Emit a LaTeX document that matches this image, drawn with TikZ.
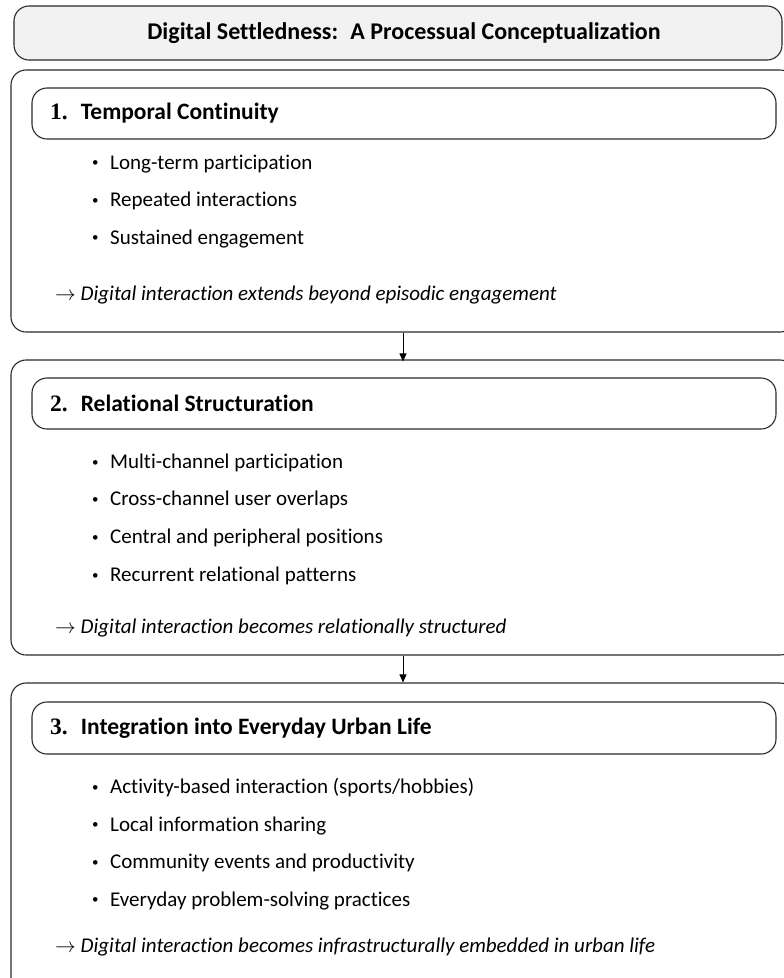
\documentclass[tikz,border=0pt]{standalone}
\usepackage{fontspec}
\setmainfont{Carlito}[Ligatures=NoCommon]
\newfontfamily\numfont{Liberation Serif}
\usetikzlibrary{arrows.meta}
\definecolor{titlefill}{HTML}{F2F2F2}
\definecolor{edge}{HTML}{2A2A2A}
\tikzset{
  panel/.style={draw=edge, line width=1.1pt, rounded corners=15pt, inner sep=0pt},
  titlebox/.style={panel, fill=titlefill},
  headbox/.style={panel, minimum width=744pt, minimum height=51pt},
  stagebox/.style={panel, minimum width=784pt},
  titletext/.style={font=\fontsize{24}{28}\selectfont\bfseries, inner sep=0pt},
  headtext/.style={font=\fontsize{23.5}{28}\selectfont\bfseries, anchor=west, inner sep=0pt},
  itemtext/.style={font=\fontsize{21}{25}\selectfont, anchor=west, inner sep=0pt},
  resulttext/.style={font=\fontsize{21}{25}\selectfont\itshape, anchor=west, inner sep=0pt},
  flow/.style={draw=black, line width=0.9pt, -{Triangle[length=8pt,width=7pt]}}
}
\newcommand{\itm}[1]{\makebox[18pt][l]{\raisebox{2.5pt}{\fontsize{13}{13}\selectfont\textbullet}}#1}
\newcommand{\hdr}[2]{{\numfont #1.}\hspace{13pt}#2}
\begin{document}
\begin{tikzpicture}[x=1pt,y=-1pt]
\useasboundingbox (0,0) rectangle (784,978);
\begin{scope}
\clip (0,0) rectangle (784,978);

% title banner
\node[titlebox, minimum width=768pt, minimum height=54pt] (title) at (398,33) {};
\node[titletext] (titlelbl) at (404,33) {Digital Settledness:\hspace{5pt} A Processual Conceptualization};

% stage panels
\node[stagebox, minimum height=262pt] (s1) at (403,201) {};
\node[stagebox, minimum height=295pt] (s2) at (403,507.5) {};
\node[stagebox, minimum height=317pt] (s3) at (403,841.5) {};

% stage headers
\node[headbox] (h1) at (404,113.5) {};
\node[headbox] (h2) at (404,403.5) {};
\node[headbox, minimum height=52pt] (h3) at (404,728) {};
\node[headtext] (h1lbl) at (50,113.5) {\hdr{1}{Temporal Continuity}};
\node[headtext] (h2lbl) at (50,403.5) {\hdr{2}{Relational Structuration}};
\node[headtext] (h3lbl) at (50,728) {\hdr{3}{Integration into Everyday Urban Life}};

% stage 1 contents
\node[itemtext] (a1) at (92,164) {\itm{Long-term participation}};
\node[itemtext] (a2) at (92,201) {\itm{Repeated interactions}};
\node[itemtext] (a3) at (92,239) {\itm{Sustained engagement}};
\node[resulttext] (r1) at (55,295) {$\rightarrow$ Digital interaction extends beyond episodic engagement};

% stage 2 contents
\node[itemtext] (b1) at (92,463) {\itm{Multi-channel participation}};
\node[itemtext] (b2) at (92,500) {\itm{Cross-channel user overlaps}};
\node[itemtext] (b3) at (92,538) {\itm{Central and peripheral positions}};
\node[itemtext] (b4) at (92,576) {\itm{Recurrent relational patterns}};
\node[resulttext] (r2) at (55,628) {$\rightarrow$ Digital interaction becomes relationally structured};

% stage 3 contents
\node[itemtext] (c1) at (92,788) {\itm{Activity-based interaction (sports/hobbies)}};
\node[itemtext] (c2) at (92,826) {\itm{Local information sharing}};
\node[itemtext] (c3) at (92,863) {\itm{Community events and productivity}};
\node[itemtext] (c4) at (92,901) {\itm{Everyday problem-solving practices}};
\node[resulttext] (r3) at (55,947) {$\rightarrow$ Digital interaction becomes infrastructurally embedded in urban life};

% transitions between stages
\draw[flow] (s1.south) -- ([yshift=-2pt]s2.north);
\draw[flow] (s2.south) -- (s3.north);
\end{scope}
\end{tikzpicture}
\end{document}
